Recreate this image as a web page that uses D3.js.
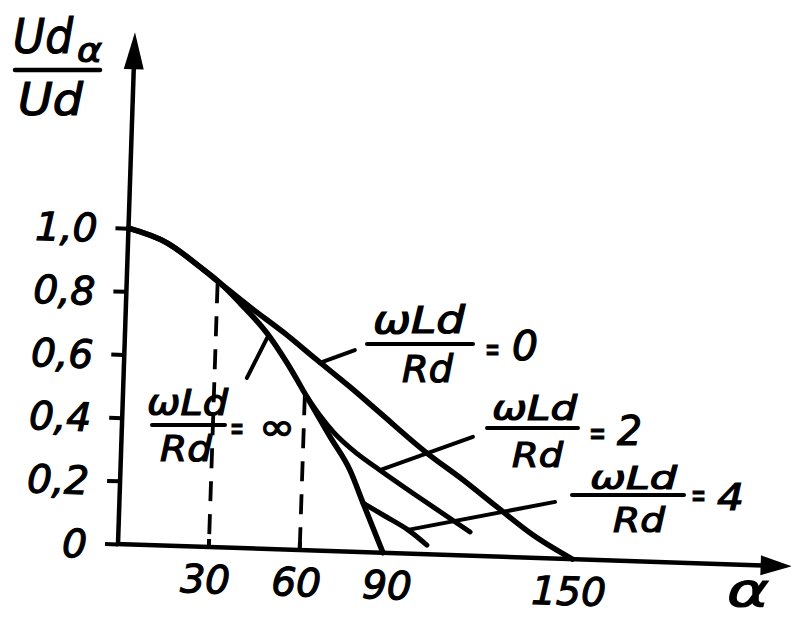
<!DOCTYPE html>
<html>
<head>
<meta charset="utf-8">
<script src="https://cdn.jsdelivr.net/npm/d3@7"></script>
<style>
  html, body { margin: 0; padding: 0; background: #fff; }
  text { font-family: "DejaVu Sans", sans-serif; font-style: italic; fill: #000; stroke: #000; stroke-width: 1.2; }
</style>
</head>
<body>
<svg id="chart" width="791" height="621"></svg>
<script>
// ---------- data ----------
const yTickValues = [0, 0.2, 0.4, 0.6, 0.8, 1.0];
const yTickLabels = ["0", "0,2", "0,4", "0,6", "0,8", "1,0"];
const xTickValues = [30, 60, 90, 150];
const xTickLabels = ["30", "60", "90", "150"];

// ωLd/Rd = ∞
const alphaInf = [0, 13, 24, 30.8, 37.6, 46.8, 53.8, 60.7, 68.8, 75.7, 80.4, 87.5];
const valueInf = [1.0, 0.957, 0.885, 0.836, 0.775, 0.683, 0.59, 0.485, 0.361, 0.258, 0.155, 0];
// ωLd/Rd = 0
const alphaR0 = [0, 13, 24, 30.8, 41, 52.1, 63.6, 74.8, 85, 100.9, 113.1, 124.6, 136.8, 150];
const valueR0 = [1.0, 0.957, 0.885, 0.836, 0.763, 0.688, 0.603, 0.521, 0.442, 0.32, 0.239, 0.157, 0.072, 0];
// ωLd/Rd = 2
const alphaL2 = [60.7, 65, 70, 78, 85.6, 100.1, 116];
const valueL2 = [0.485, 0.43, 0.375, 0.31, 0.261, 0.171, 0.075];
// ωLd/Rd = 4
const alphaL4 = [80.4, 88, 95.5, 101.9];
const valueL4 = [0.155, 0.115, 0.075, 0.029];

// dashed guides
const dashAlpha = [30, 60];
const dashTop = [0.835, 0.49];

// leader lines [alpha1, value1, alpha2, value2]
const leaderR0 = [64.6, 0.594, 76.0, 0.638];
const leaderInf = [40.7, 0.539, 46.9, 0.667];
const leaderL2 = [85.6, 0.261, 115.9, 0.376];
const leaderL4 = [95.5, 0.075, 143.7, 0.179];

// ---------- drawing ----------
const svg = d3.select("#chart");
svg.append("rect").attr("width", 791).attr("height", 621).attr("fill", "#fff");

const x = d3.scaleLinear().domain([0, 150]).range([0, 454.5]);
const y = d3.scaleLinear().domain([0, 1]).range([0, -316]);

const g = svg.append("g").attr("transform", "translate(118,544) rotate(1.9)");

// axes spines
g.append("line").attr("x1", 0).attr("y1", 0).attr("x2", 0).attr("y2", -478)
  .attr("stroke", "#000").attr("stroke-width", 4.5);
g.append("line").attr("x1", -2).attr("y1", 0).attr("x2", 645).attr("y2", 0)
  .attr("stroke", "#000").attr("stroke-width", 4.5);
// arrow heads
g.append("path").attr("d", "M0,-512 L-10,-475 L10,-475 Z").attr("fill", "#000");
g.append("path").attr("d", "M674,0 L643,-10 L643,10 Z").attr("fill", "#000");

// y axis ticks + labels
const yAxis = d3.axisLeft(y).tickValues(yTickValues).tickSize(13).tickPadding(18)
  .tickFormat((d, i) => yTickLabels[i]);
const ya = g.append("g").call(yAxis);
ya.select(".domain").remove();
ya.selectAll(".tick line").attr("stroke", "#000").attr("stroke-width", 4);
ya.selectAll(".tick text").attr("font-size", 39).attr("font-family", null)
  .attr("dy", "0.36em").attr("x", -31);

// x axis ticks + labels
const xAxis = d3.axisBottom(x).tickValues(xTickValues).tickSize(0)
  .tickFormat((d, i) => xTickLabels[i]);
const xa = g.append("g").call(xAxis);
xa.select(".domain").remove();
xa.selectAll(".tick text").attr("font-size", 39).attr("font-family", null)
  .attr("y", 46).attr("dy", 0).attr("dx", -3);
// small upward ticks at 30 and 60
g.selectAll(".xtick").data(dashAlpha).enter().append("line")
  .attr("x1", d => x(d)).attr("x2", d => x(d)).attr("y1", 0).attr("y2", -8)
  .attr("stroke", "#000").attr("stroke-width", 4);

// dashed guides
g.selectAll(".dash").data(dashAlpha).enter().append("line")
  .attr("x1", d => x(d)).attr("x2", d => x(d))
  .attr("y1", (d, i) => y(dashTop[i])).attr("y2", 0)
  .attr("stroke", "#000").attr("stroke-width", 3.8)
  .attr("stroke-dasharray", "20,13");

// curves
const line = d3.line().x(d => x(d[0])).y(d => y(d[1])).curve(d3.curveMonotoneX);
function drawCurve(as, vs, w) {
  g.append("path").datum(as.map((a, i) => [a, vs[i]]))
    .attr("d", line).attr("fill", "none").attr("stroke", "#000")
    .attr("stroke-width", w).attr("stroke-linecap", "round").attr("stroke-linejoin", "round");
}
drawCurve(alphaR0, valueR0, 5.5);
drawCurve(alphaInf, valueInf, 5.5);
drawCurve(alphaL2, valueL2, 5);
drawCurve(alphaL4, valueL4, 5);

// leaders
[leaderR0, leaderInf, leaderL2, leaderL4].forEach(l => {
  g.append("line").attr("x1", x(l[0])).attr("y1", y(l[1]))
    .attr("x2", x(l[2])).attr("y2", y(l[3]))
    .attr("stroke", "#000").attr("stroke-width", 4).attr("stroke-linecap", "round");
});

// ---------- text labels (screen coordinates) ----------
function txt(xp, yp, s, size, len) {
  const t = svg.append("text").attr("x", xp).attr("y", yp).attr("font-size", size).text(s);
  if (len) t.attr("textLength", len).attr("lengthAdjust", "spacingAndGlyphs");
  return t;
}
function bar(x1, x2, yy, w) {
  svg.append("line").attr("x1", x1).attr("x2", x2).attr("y1", yy).attr("y2", yy)
    .attr("stroke", "#000").attr("stroke-width", w || 4).attr("stroke-linecap", "round");
}

// y title
txt(13, 53, "Ud", 48, 60);
txt(77, 62, "α", 34, 25);
bar(15, 100, 70, 4.5);
txt(18, 115, "Ud", 44, 65);

// x title
txt(727, 606, "α", 46, 42);

// label ωLd/Rd = 0
txt(373, 333, "ωLd", 37, 92);
bar(367, 473, 344);
txt(402, 382, "Rd", 37, 51);
txt(485, 361, "=", 34, 15);
txt(512, 360, "0", 40, 26);

// label ωLd/Rd = ∞
txt(147, 415, "ωLd", 36, 81);
bar(152, 225, 425);
txt(160, 461, "Rd", 36, 52);
txt(230, 440, "=", 34, 14);
txt(259, 440, "∞", 38, 36);

// label ωLd/Rd = 2
txt(492, 420, "ωLd", 33, 85);
bar(487, 578, 428);
txt(512, 467, "Rd", 34, 51);
txt(589, 445, "=", 34, 17);
txt(617, 445, "2", 40, 25);

// label ωLd/Rd = 4
txt(590, 489, "ωLd", 32, 87);
bar(572, 684, 495);
txt(613, 532, "Rd", 34, 52);
txt(691, 507, "=", 34, 15);
txt(717, 510, "4", 38, 27);
</script>
</body>
</html>
